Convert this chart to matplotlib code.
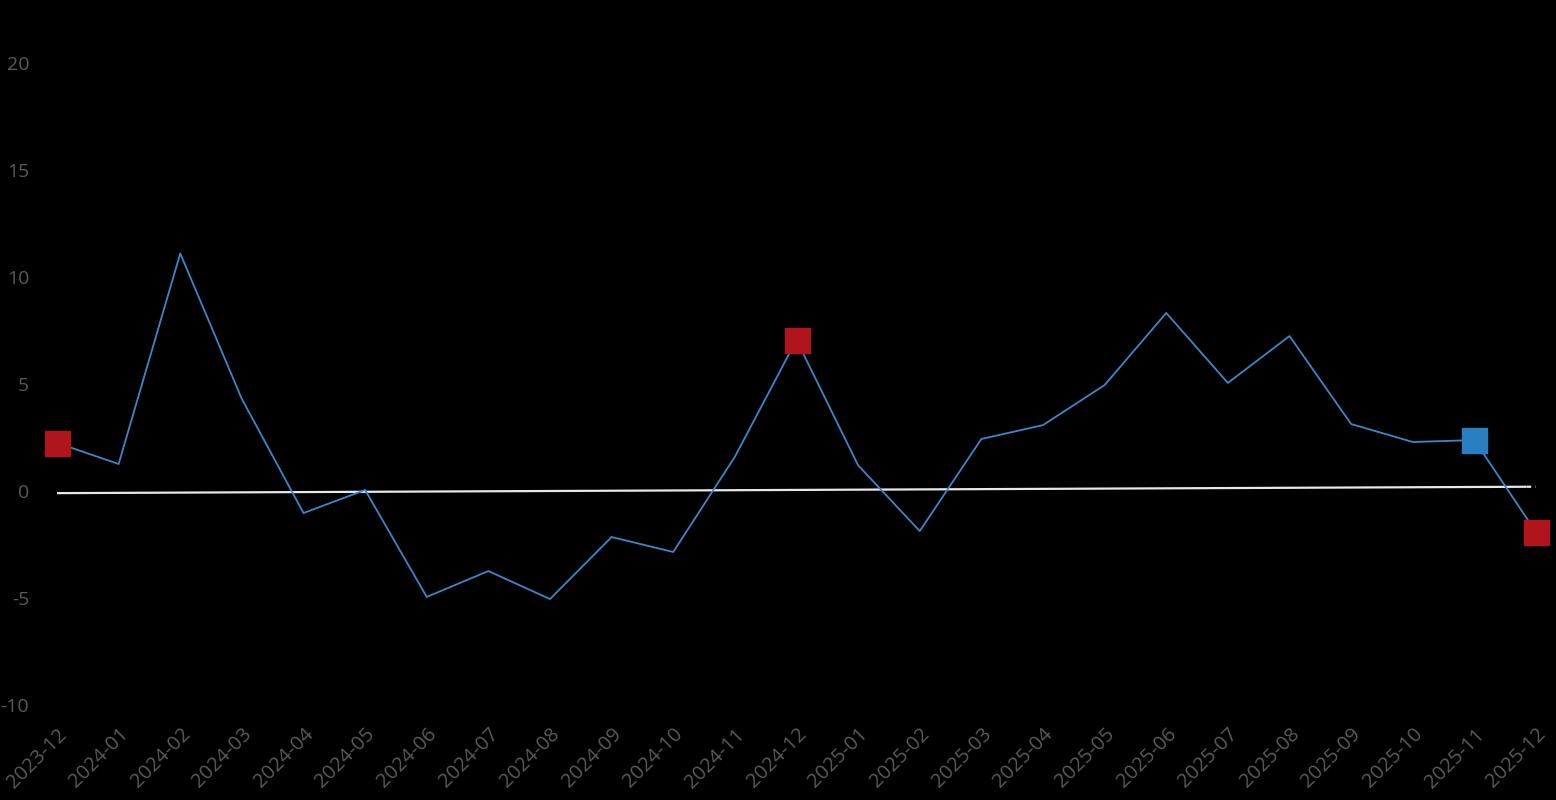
import matplotlib.pyplot as plt

# monthly values
months = ['2023-12', '2024-01', '2024-02', '2024-03', '2024-04', '2024-05',
          '2024-06', '2024-07', '2024-08', '2024-09', '2024-10', '2024-11',
          '2024-12', '2025-01', '2025-02', '2025-03', '2025-04', '2025-05',
          '2025-06', '2025-07', '2025-08', '2025-09', '2025-10', '2025-11',
          '2025-12']
values = [2.25, 1.26, 11.1, 4.3, -1.03, 0.05, -4.95, -3.74, -5.05, -2.15,
          -2.85, 1.6, 7.06, 1.2, -1.87, 2.43, 3.08, 4.95, 8.32, 5.05, 7.24,
          3.13, 2.29, 2.38, -1.92]
red_idx = [0, 12, 24]
blue_idx = [23]
trend_ends = [-0.1, 0.2]
yticks = [-10, -5, 0, 5, 10, 15, 20]

plt.rcParams['font.family'] = ['Open Sans', 'DejaVu Sans']

fig = plt.figure(figsize=(15.56, 8), dpi=100, facecolor='black')
ax = fig.add_axes([57 / 1556, 95 / 800, (1536 - 57) / 1556, (705 - 63) / 800])
ax.set_facecolor('black')

x = list(range(len(values)))
n = len(values) - 1

# white reference line, dashed at its very end
cut = n - 0.15
slope = (trend_ends[1] - trend_ends[0]) / n
ax.plot([0, cut], [trend_ends[0], trend_ends[0] + slope * cut],
        color='#e8e8e8', lw=1.6, solid_capstyle='butt', zorder=2)
ax.plot([cut, n], [trend_ends[0] + slope * cut, trend_ends[1]],
        color='#e8e8e8', lw=1.6, ls=(0, (2, 2)), zorder=2)

ax.plot(x, values, color='#3a88c8', lw=1.3, zorder=3)
ax.plot([x[i] for i in red_idx], [values[i] for i in red_idx], 's',
        color='#b0141c', markersize=18, zorder=4, clip_on=False)
ax.plot([x[i] for i in blue_idx], [values[i] for i in blue_idx], 's',
        color='#2a7fc1', markersize=18, zorder=4, clip_on=False)

ax.set_xlim(0, n)
ax.set_ylim(-10, 20)
ax.set_yticks(yticks)
ax.set_yticklabels([str(v) for v in yticks])
ax.set_xticks(x)
ax.set_xticklabels(months, rotation=45, ha='right', rotation_mode='anchor')

ax.tick_params(axis='y', length=0, pad=20, labelsize=14, labelcolor='#5a5a5a')
ax.tick_params(axis='x', length=0, pad=14, labelsize=14.5, labelcolor='#5a5a5a')
for s in ax.spines.values():
    s.set_visible(False)

fig.savefig('out.png', dpi=100, facecolor='black')
